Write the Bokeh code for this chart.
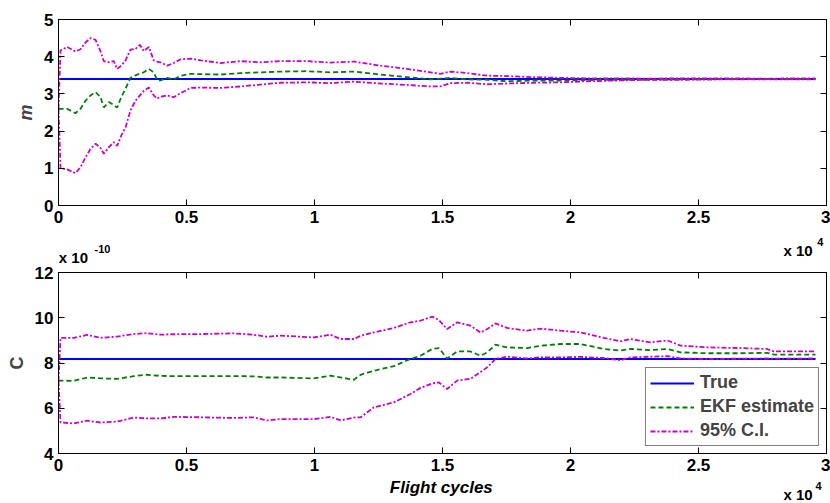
from bokeh.plotting import figure
from bokeh.layouts import column
from bokeh.models import Range1d, FixedTicker, LinearAxis, Label
from bokeh.embed import file_html
from bokeh.resources import INLINE

# ---------------- data ----------------
# panel 1: parameter m
cyc_m = [0, 80, 340, 660, 860, 1060, 1250, 1450, 1640, 1770, 1970, 2160, 2290, 2450,
         2620, 2810, 3010, 3180, 3330, 3530, 3720, 3850, 3980, 4250, 4500, 4770, 5160,
         5550, 6330, 7110, 7890, 8670, 9710, 10620, 11530, 12580, 13620, 14530, 14920,
         15310, 15960, 16750, 17520, 18570, 19610, 20600, 21800, 23000, 24500, 26000,
         27500, 29570]
m_true = 3.4
m_est = [2.6, 2.6, 2.6, 2.48, 2.6, 2.82, 2.96, 3.05, 2.91, 2.64, 2.78, 2.7, 2.63, 2.91,
         3.14, 3.43, 3.5, 3.55, 3.58, 3.67, 3.58, 3.38, 3.36, 3.43, 3.39, 3.49, 3.54,
         3.53, 3.52, 3.56, 3.58, 3.6, 3.61, 3.58, 3.6, 3.52, 3.45, 3.39, 3.41,
         3.43, 3.39, 3.38, 3.34, 3.36, 3.36, 3.37, 3.38, 3.38, 3.39, 3.4,
         3.4, 3.4]
m_upper = [2.6, 4.17, 4.26, 4.14, 4.2, 4.39, 4.5, 4.45, 4.15, 3.88, 3.85, 3.88, 3.67, 3.76,
           3.9, 4.19, 4.21, 4.32, 4.15, 4.26, 3.9, 3.87, 3.85, 3.76, 3.83, 3.93, 3.95,
           3.9, 3.83, 3.88, 3.85, 3.88, 3.88, 3.84, 3.87, 3.76, 3.67, 3.58, 3.54,
           3.6, 3.56, 3.49, 3.48, 3.45, 3.43, 3.42, 3.42, 3.41, 3.42, 3.42,
           3.41, 3.42]
m_lower = [2.6, 1.0, 0.97, 0.87, 1.03, 1.3, 1.52, 1.66, 1.55, 1.39, 1.57, 1.7, 1.6, 1.88,
           2.1, 2.55, 2.82, 2.96, 3.08, 3.17, 2.96, 2.87, 2.92, 2.96, 2.91, 3.02, 3.16,
           3.17, 3.16, 3.2, 3.25, 3.3, 3.31, 3.29, 3.33, 3.28, 3.24, 3.2, 3.2,
           3.29, 3.3, 3.26, 3.28, 3.3, 3.31, 3.34, 3.36, 3.38, 3.38, 3.39,
           3.39, 3.39]

# panel 2: parameter C (in units of 1e-10)
cyc_c = [0, 80, 600, 1120, 1640, 2290, 2940, 3460, 3980, 4500, 5550, 6850, 7630, 8140,
         8670, 9970, 10620, 11020, 11540, 11800, 12320, 13100, 13750, 14140, 14600,
         14860, 15180, 15570, 16090, 16490, 16750, 17070, 17520, 18300, 18830, 19610,
         20390, 21300, 21950, 22340, 23120, 23780, 24300, 25340, 26640, 27680, 27940,
         29570]
c_true = 8.18
c_est = [7.2, 7.22, 7.21, 7.36, 7.32, 7.3, 7.42, 7.48, 7.43, 7.42, 7.42, 7.42, 7.41, 7.36,
         7.36, 7.32, 7.44, 7.36, 7.26, 7.48, 7.66, 7.86, 8.18, 8.32, 8.62,
         8.66, 8.2, 8.51, 8.51, 8.32, 8.47, 8.81, 8.69, 8.66, 8.76, 8.84,
         8.84, 8.62, 8.55, 8.62, 8.57, 8.62, 8.47, 8.43, 8.43, 8.45, 8.37,
         8.37]
c_upper = [7.2, 9.11, 9.11, 9.24, 9.11, 9.17, 9.28, 9.32, 9.25, 9.27, 9.28, 9.31, 9.25, 9.16,
           9.21, 9.13, 9.25, 9.06, 9.06, 9.2, 9.35, 9.55, 9.8, 9.87, 10.05,
           9.9, 9.5, 9.8, 9.65, 9.35, 9.5, 9.75, 9.55, 9.43, 9.52, 9.43,
           9.35, 9.11, 8.96, 9.06, 8.91, 9.0, 8.77, 8.69, 8.66, 8.62, 8.51,
           8.51]
c_lower = [7.2, 5.37, 5.33, 5.45, 5.37, 5.41, 5.59, 5.55, 5.55, 5.62, 5.6, 5.57, 5.6, 5.46,
           5.52, 5.52, 5.62, 5.46, 5.59, 5.6, 6.04, 6.26, 6.63, 6.9, 7.1,
           7.14, 6.85, 7.22, 7.3, 7.6, 7.81, 8.18, 8.28, 8.2, 8.25, 8.25,
           8.27, 8.22, 8.12, 8.25, 8.28, 8.3, 8.2, 8.18, 8.19, 8.2, 8.19,
           8.2]

x_ticks = [0, 5000, 10000, 15000, 20000, 25000, 30000]
x_tick_labels = ["0", "0.5", "1", "1.5", "2", "2.5", "3"]
m_ticks = [0, 1, 2, 3, 4, 5]
c_ticks = [4, 6, 8, 10, 12]
x_max = 30000

# ---------------- styling helpers ----------------
FONT = "Liberation Sans"
BLUE = "#0000FF"
GREEN = "#008000"
MAGENTA = "#CC00CC"
DASH = "5 3"
DASHDOT = "5 2 2 2"
LW = 1.8
W = 830
x_over = {t: l for t, l in zip(x_ticks, x_tick_labels)}


def style_axis(ax, ticks, overrides=None, show_labels=True):
    ax.ticker = FixedTicker(ticks=ticks)
    ax.major_tick_in = 6
    ax.major_tick_out = 0
    ax.minor_tick_in = 0
    ax.minor_tick_out = 0
    ax.axis_line_color = "black"
    ax.axis_line_width = 1
    ax.major_tick_line_color = "black"
    ax.major_label_text_font = FONT
    ax.major_label_text_font_style = "bold"
    ax.major_label_text_color = "black"
    if show_labels:
        if overrides:
            ax.major_label_overrides = overrides
        ax.major_label_text_font_size = "17px"
        ax.major_label_standoff = 5
    else:
        ax.major_label_overrides = {t: "" for t in ticks}
        ax.major_label_text_font_size = "1px"
        ax.major_label_standoff = 0


def make_fig(height, yr, top, bottom):
    p = figure(width=W, height=height, x_range=Range1d(0, x_max), y_range=yr,
               output_backend="svg", toolbar_location=None,
               min_border_left=58, min_border_right=4,
               min_border_top=top, min_border_bottom=bottom)
    p.xgrid.grid_line_color = None
    p.ygrid.grid_line_color = None
    p.outline_line_color = "black"
    p.outline_line_width = 1
    p.background_fill_color = "white"
    p.border_fill_color = "white"
    return p


def make_strip(height):
    # text strip sharing the panels' horizontal scale; y runs downward in pixels
    s = figure(width=W, height=height, x_range=Range1d(0, x_max),
               y_range=Range1d(height, 0), x_axis_type=None, y_axis_type=None,
               output_backend="svg", toolbar_location=None,
               min_border_left=58, min_border_right=4,
               min_border_top=0, min_border_bottom=0)
    s.xgrid.grid_line_color = None
    s.ygrid.grid_line_color = None
    s.outline_line_color = None
    s.background_fill_color = "white"
    s.border_fill_color = "white"
    return s


def add_box_axes(p, yticks):
    top_ax = LinearAxis()
    style_axis(top_ax, x_ticks, show_labels=False)
    p.add_layout(top_ax, "above")
    right_ax = LinearAxis()
    style_axis(right_ax, yticks, show_labels=False)
    p.add_layout(right_ax, "right")


def txt(p, x, y, s, size, style="bold", align="left"):
    p.add_layout(Label(x=x, y=y, text=s, text_font=FONT, text_font_style=style,
                       text_font_size=size, text_color="black",
                       text_baseline="middle", text_align=align))


def ylabel(ax, s, style):
    ax.axis_label = s
    ax.axis_label_text_font = FONT
    ax.axis_label_text_font_style = style
    ax.axis_label_text_font_size = "18px"
    ax.axis_label_standoff = 5


# ---------------- panel 1 : m ----------------
p1 = make_fig(232, Range1d(0, 5), 19, 27)
style_axis(p1.xaxis[0], x_ticks, x_over)
style_axis(p1.yaxis[0], m_ticks)
ylabel(p1.yaxis[0], "m", "bold italic")
add_box_axes(p1, m_ticks)

p1.line([cyc_m[0], cyc_m[-1]], [m_true, m_true], line_color=BLUE, line_width=2)
p1.line(cyc_m, m_est, line_color=GREEN, line_width=LW, line_dash=DASH)
p1.line(cyc_m, m_upper, line_color=MAGENTA, line_width=LW, line_dash=DASHDOT)
p1.line(cyc_m, m_lower, line_color=MAGENTA, line_width=LW, line_dash=DASHDOT)

# ---------------- strip between panels: exponents ----------------
s1 = make_strip(33)
txt(s1, 28320, 17.8, "x 10", "15px")
txt(s1, 29636, 9.2, "4", "11px")
txt(s1, 12, 24.6, "x 10", "15px")
txt(s1, 1406, 16.2, "-10", "11px")

# ---------------- panel 2 : C ----------------
p2 = make_fig(213, Range1d(4, 12), 7, 25)
style_axis(p2.xaxis[0], x_ticks, x_over)
style_axis(p2.yaxis[0], c_ticks)
ylabel(p2.yaxis[0], "C", "bold")
add_box_axes(p2, c_ticks)

p2.line([cyc_c[0], cyc_c[-1]], [c_true, c_true], line_color=BLUE, line_width=2,
        legend_label="True")
p2.line(cyc_c, c_est, line_color=GREEN, line_width=LW, line_dash=DASH,
        legend_label="EKF estimate")
p2.line(cyc_c, c_upper, line_color=MAGENTA, line_width=LW, line_dash=DASHDOT,
        legend_label="95% C.I.")
p2.line(cyc_c, c_lower, line_color=MAGENTA, line_width=LW, line_dash=DASHDOT)

lg = p2.legend[0]
lg.location = "bottom_right"
lg.margin = 7
lg.padding = 4
lg.spacing = 3
lg.label_text_font = FONT
lg.label_text_font_style = "bold"
lg.label_text_font_size = "18px"
lg.label_height = 20
lg.glyph_height = 20
lg.glyph_width = 44
lg.label_standoff = 6
lg.border_line_color = "black"
lg.border_line_width = 1
lg.background_fill_color = "white"
lg.background_fill_alpha = 1

# ---------------- strip below: x-axis title and exponent ----------------
s2 = make_strip(25)
txt(s2, 14953, 8.8, "Flight cycles", "17px", style="bold italic", align="center")
txt(s2, 28320, 15.8, "x 10", "15px")
txt(s2, 29570, 7.0, "4", "11px")

layout = column(p1, s1, p2, s2, spacing=0)
open("out.html", "w").write(file_html(layout, INLINE))
